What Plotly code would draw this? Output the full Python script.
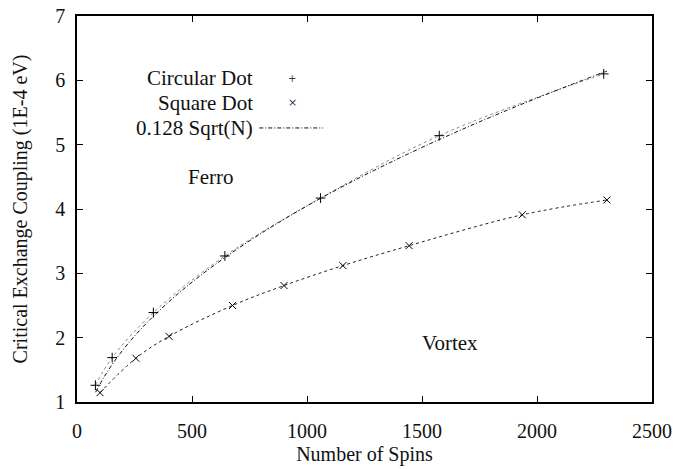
import plotly.graph_objects as go

# ---- data ----
circ_n = [80, 153, 332, 643, 1059, 1575, 2290]
circ_j = [1.26, 1.69, 2.39, 3.27, 4.17, 5.14, 6.10]

sq_n = [100, 256, 400, 676, 900, 1156, 1444, 1936, 2304]
sq_j = [1.145, 1.68, 2.02, 2.50, 2.81, 3.12, 3.43, 3.91, 4.14]

# 0.128*sqrt(N) curve, sampled values
fit_n = [81, 120, 160, 220, 300, 400, 520, 660, 820, 1000, 1200, 1420, 1660, 1920, 2200, 2304]
fit_j = [1.152, 1.402, 1.619, 1.899, 2.217, 2.560, 2.919, 3.288, 3.665, 4.048, 4.434, 4.823,
         5.215, 5.609, 6.004, 6.144]

x_ticks = [0, 500, 1000, 1500, 2000, 2500]
y_ticks = [1, 2, 3, 4, 5, 6, 7]

FONT = "Liberation Serif"
FS = 20

fig = go.Figure()

# fit lines
fig.add_trace(go.Scatter(x=circ_n, y=circ_j, mode="lines", line_shape="spline",
                         line=dict(color="#8a8a8a", width=1, dash="dot"), showlegend=False,
                         hoverinfo="skip"))
fig.add_trace(go.Scatter(x=sq_n, y=sq_j, mode="lines", line_shape="spline",
                         line=dict(color="#222222", width=1, dash="3px,3px"), showlegend=False,
                         hoverinfo="skip"))
fig.add_trace(go.Scatter(x=fit_n, y=fit_j, mode="lines", line_shape="spline",
                         line=dict(color="#111111", width=1, dash="4px,2px,1px,2px"),
                         name="0.128 Sqrt(N)", showlegend=False))
# points
fig.add_trace(go.Scatter(x=circ_n, y=circ_j, mode="markers", name="Circular Dot",
                         marker=dict(symbol="cross-thin", size=7,
                                     line=dict(color="black", width=1)),
                         showlegend=False))
fig.add_trace(go.Scatter(x=sq_n, y=sq_j, mode="markers", name="Square Dot",
                         marker=dict(symbol="x-thin", size=7,
                                     line=dict(color="black", width=1)),
                         showlegend=False))

# gnuplot-style key
key_font = dict(family=FONT, size=21, color="#111")
for label, yp in [("Circular Dot", 0.839), ("Square Dot", 0.775), ("0.128 Sqrt(N)", 0.710)]:
    fig.add_annotation(xref="paper", yref="paper", x=0.31, y=yp, text=label,
                       showarrow=False, xanchor="right", yanchor="middle", font=key_font)
fig.add_annotation(xref="paper", yref="paper", x=0.374, y=0.839, text="+", showarrow=False,
                   xanchor="center", yanchor="middle", font=dict(family="DejaVu Sans", size=10))
fig.add_annotation(xref="paper", yref="paper", x=0.374, y=0.775, text="×", showarrow=False,
                   xanchor="center", yanchor="middle", font=dict(family="DejaVu Sans", size=11))
fig.add_shape(type="line", xref="paper", yref="paper", x0=0.317, x1=0.428, y0=0.710, y1=0.710,
              line=dict(color="#111", width=1, dash="4px,2px,1px,2px"))

# region labels
fig.add_annotation(x=583, y=4.5, text="Ferro", showarrow=False, font=key_font)
fig.add_annotation(x=1623, y=1.92, text="Vortex", showarrow=False, font=key_font)

axis_common = dict(showgrid=False, zeroline=False, showline=True, linecolor="black",
                   linewidth=1.5, mirror="allticks", ticks="inside", ticklen=6,
                   tickcolor="black", tickwidth=1, automargin=False,
                   ticklabeloverflow="allow",
                   tickfont=dict(family=FONT, size=FS, color="#111"))

fig.update_xaxes(range=[0, 2500], tickvals=x_ticks, ticktext=[str(v) for v in x_ticks],
                 ticklabelstandoff=10,
                 title=dict(text="Number of Spins", font=dict(family=FONT, size=FS, color="#111"),
                            standoff=6),
                 **axis_common)
fig.update_yaxes(range=[1, 7], tickvals=y_ticks, ticktext=[str(v) for v in y_ticks],
                 ticklabelstandoff=6,
                 title=dict(text="Critical Exchange Coupling (1E-4 eV)",
                            font=dict(family=FONT, size=FS, color="#111"), standoff=22),
                 **axis_common)

fig.update_layout(width=700, height=469, plot_bgcolor="white", paper_bgcolor="white",
                  margin=dict(l=77, r=48, t=16, b=67), showlegend=False)

# remove the page's default body margin so the figure fills the window exactly
fig.write_html("out.html", config={"displayModeBar": False},
               post_script="document.body.style.margin='0';")
